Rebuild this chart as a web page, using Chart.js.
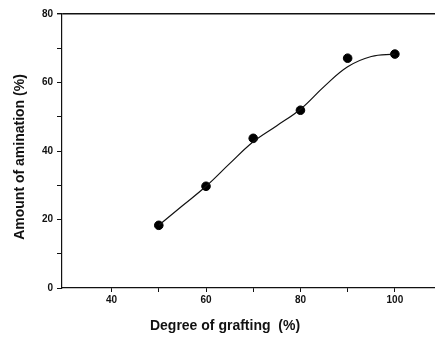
<!DOCTYPE html>
<html>
<head>
<meta charset="utf-8">
<script src="https://cdn.jsdelivr.net/npm/chart.js@4/dist/chart.umd.min.js"></script>
<style>
    html, body { margin: 0; padding: 0; background: #fff; }
    #wrap { position: relative; width: 435px; height: 338px; }
</style>
</head>
<body>
<div id="wrap"><canvas id="chart" width="435" height="338"></canvas></div>
<script>
// Measured points
const grafting = [50, 60, 70, 80, 90, 100];
const amination = [18.3, 29.7, 43.7, 51.9, 67.1, 68.3];

// Fitted curve
const curveX = [50, 55, 60, 65, 70, 75, 80, 85, 90, 95, 100];
const curveY = [18.3, 24.0, 29.7, 36.3, 42.7, 47.4, 52.2, 58.8, 64.6, 67.6, 68.3];

const yTickLabels = [0, 20, 40, 60, 80];
const xTickLabels = [40, 60, 80, 100];

const xTitle = 'Degree of grafting  (%)';
const yTitle = 'Amount of amination (%)';

const font = "'Liberation Sans', Arial, sans-serif";

// axis titles sit a little off the plot centre in the original, so draw them by hand
const titlesPlugin = {
    id: 'axisTitles',
    afterDraw(chart) {
        const ctx = chart.ctx;
        ctx.save();
        ctx.font = 'bold 14px ' + font;
        ctx.fillStyle = '#111';
        ctx.textAlign = 'center';
        ctx.textBaseline = 'middle';
        ctx.fillText(xTitle, 225, 326);
        ctx.translate(20, 157);
        ctx.rotate(-Math.PI / 2);
        ctx.fillText(yTitle, 0, 0);
        ctx.restore();
    }
};

new Chart(document.getElementById('chart'), {
    type: 'scatter',
    data: {
        datasets: [
            {
                label: 'fit',
                data: curveX.map((x, i) => ({ x: x, y: curveY[i] })),
                showLine: true,
                borderColor: '#111',
                borderWidth: 1.2,
                pointRadius: 0,
                tension: 0.4
            },
            {
                label: 'measured',
                data: grafting.map((x, i) => ({ x: x, y: amination[i] })),
                showLine: false,
                backgroundColor: '#000',
                borderColor: '#000',
                pointRadius: 4.3
            }
        ]
    },
    options: {
        responsive: false,
        animation: false,
        layout: { autoPadding: false, padding: { top: 14, right: 0, left: 0, bottom: 0 } },
        plugins: {
            legend: { display: false },
            tooltip: { enabled: false }
        },
        scales: {
            x: {
                type: 'linear',
                min: 29.5,
                max: 108.5,
                afterFit: s => { s.height = 50; s.paddingRight = 0; s.paddingLeft = 0; },
                border: { color: '#111', width: 1.2 },
                grid: { drawOnChartArea: false, tickLength: 4, color: '#111' },
                ticks: {
                    stepSize: 10,
                    autoSkip: false,
                    maxRotation: 0,
                    color: '#111',
                    font: { family: font, size: 10, weight: 'bold' },
                    padding: 2,
                    callback: v => xTickLabels.includes(v) ? String(v) : ''
                },
                afterBuildTicks: s => {
                    s.ticks = [40, 50, 60, 70, 80, 90, 100].map(v => ({ value: v }));
                }
            },
            y: {
                type: 'linear',
                min: 0,
                max: 80,
                afterFit: s => { s.width = 62; },
                border: { color: '#111', width: 1.2 },
                grid: {
                    drawOnChartArea: true,
                    tickLength: 5,
                    tickColor: '#111',
                    color: c => c.tick && c.tick.value === 80 ? '#111' : 'transparent',
                    lineWidth: c => c.tick && c.tick.value === 80 ? 1.4 : 1
                },
                ticks: {
                    stepSize: 10,
                    color: '#111',
                    font: { family: font, size: 10, weight: 'bold' },
                    padding: 4,
                    callback: v => yTickLabels.includes(v) ? String(v) : ''
                }
            }
        }
    },
    plugins: [titlesPlugin]
});
</script>
</body>
</html>
